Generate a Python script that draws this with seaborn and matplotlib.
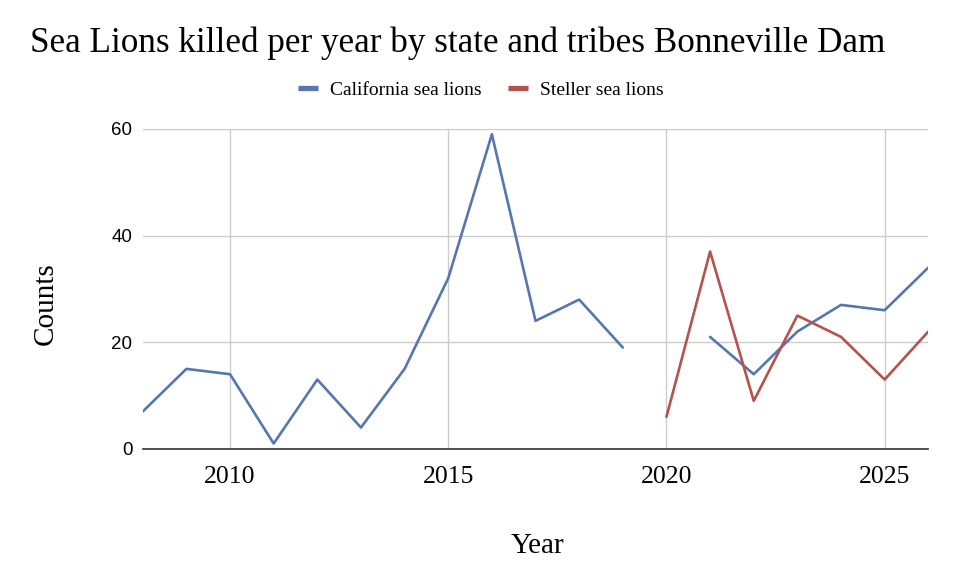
import pandas as pd
import seaborn as sns
import matplotlib.pyplot as plt
from matplotlib.lines import Line2D

# values
years_ca_a = [2008, 2009, 2010, 2011, 2012, 2013, 2014, 2015, 2016, 2017, 2018, 2019]
ca_a = [7, 15, 14, 1, 13, 4, 15, 32, 59, 24, 28, 19]
years_ca_b = [2021, 2022, 2023, 2024, 2025, 2026]
ca_b = [21, 14, 22, 27, 26, 34]
years_st = [2020, 2021, 2022, 2023, 2024, 2025, 2026]
st = [6, 37, 9, 25, 21, 13, 22]

series_names = ['California sea lions', 'Steller sea lions']
colors = {'California sea lions': '#5677ae', 'Steller sea lions': '#b4524d'}

# California has no value for 2020, so it is drawn as two pieces
df = pd.concat([
    pd.DataFrame({'Year': years_ca_a, 'Counts': ca_a, 'series': series_names[0], 'seg': 0}),
    pd.DataFrame({'Year': years_ca_b, 'Counts': ca_b, 'series': series_names[0], 'seg': 1}),
    pd.DataFrame({'Year': years_st, 'Counts': st, 'series': series_names[1], 'seg': 2}),
])

sns.set_style('white')
serif = ['Liberation Serif', 'DejaVu Serif']
sans = ['Liberation Sans', 'DejaVu Sans']

fig = plt.figure(figsize=(9.58, 5.86), dpi=100)
ax = fig.add_axes([0.149, 0.234, 0.82, 0.546])

sns.lineplot(data=df, x='Year', y='Counts', hue='series', units='seg', estimator=None,
             palette=colors, linewidth=1.9, ax=ax, legend=False)

ax.set_xlim(2008, 2026)
ax.set_ylim(0, 60)
ax.set_xticks([2010, 2015, 2020, 2025])
ax.set_yticks([0, 20, 40, 60])
ax.grid(True, color='#cccccc', linewidth=1)
ax.set_axisbelow(True)
for s in ['top', 'right', 'left']:
    ax.spines[s].set_visible(False)
ax.spines['bottom'].set_color('#333333')
ax.spines['bottom'].set_linewidth(1.2)
ax.tick_params(length=0, colors='black')

for lab in ax.get_xticklabels():
    lab.set_fontfamily(serif)
    lab.set_fontsize(18.5)
for lab in ax.get_yticklabels():
    lab.set_fontfamily(sans)
    lab.set_fontsize(13.5)
ax.tick_params(axis='x', pad=12.5)
ax.tick_params(axis='y', pad=7.5)

ax.set_xlabel('Year', fontfamily=serif, fontsize=21, color='black')
ax.set_ylabel('Counts', fontfamily=serif, fontsize=21, color='black')
ax.xaxis.set_label_coords(0.502, -0.305)
ax.xaxis.label.set_verticalalignment('center')
ax.yaxis.set_label_coords(-0.124, 0.453)
ax.yaxis.label.set_verticalalignment('center')

fig.text(30 / 958, 1 - 43 / 586, 'Sea Lions killed per year by state and tribes Bonneville Dam',
         fontfamily=serif, fontsize=25.3, va='center', ha='left', color='black')

handles = [Line2D([], [], color=colors[n], linewidth=3.8, solid_capstyle='butt') for n in series_names]
fig.legend(handles, series_names, loc='center', bbox_to_anchor=(0.502, 1 - 90.5 / 586), ncol=2,
           frameon=False, prop={'family': serif, 'size': 14}, handlelength=1.05,
           handletextpad=0.6, columnspacing=1.35, labelcolor='black')

fig.savefig('out.png', dpi=100)
